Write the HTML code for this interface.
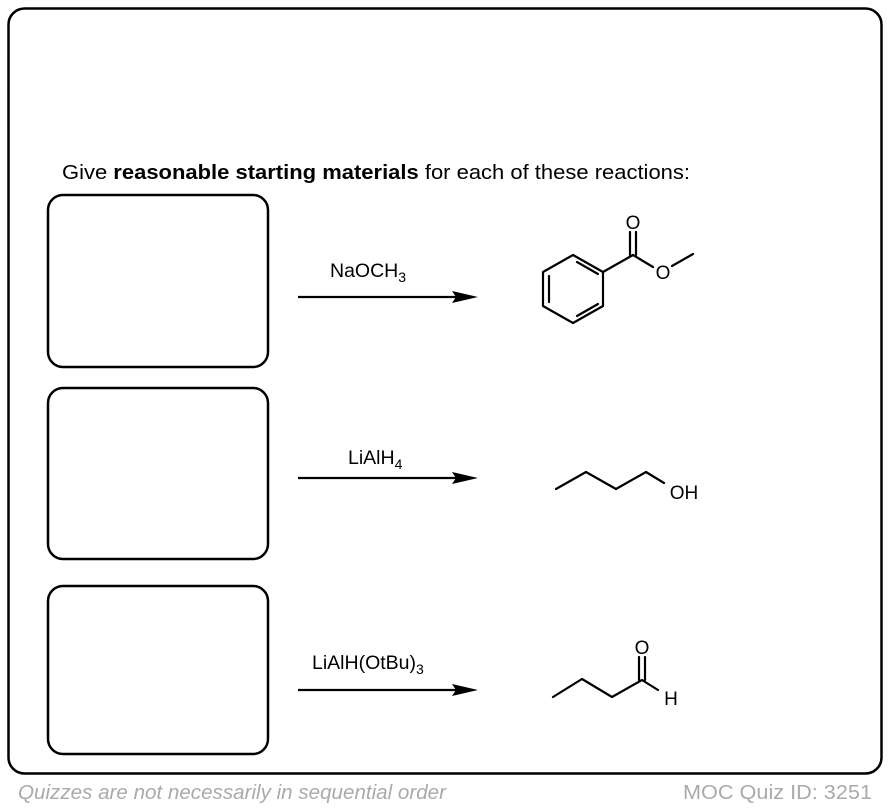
<!DOCTYPE html>
<html><head><meta charset="utf-8"><style>
html,body{margin:0;padding:0;background:#fff;}
svg{display:block;}
text{font-family:"Liberation Sans",Arial,sans-serif;}
</style></head><body>
<svg width="890" height="808" viewBox="0 0 890 808" xmlns="http://www.w3.org/2000/svg">
<rect x="8.5" y="8.5" width="873" height="765" rx="16" fill="#fff" stroke="#000" stroke-width="2.5"/>
<text x="62" y="179" font-size="20.5" fill="#000" textLength="628" lengthAdjust="spacingAndGlyphs">Give <tspan font-weight="bold">reasonable starting materials</tspan> for each of these reactions:</text>
<g fill="none" stroke="#000" stroke-width="2.5">
<rect x="48" y="195" width="220" height="172" rx="15"/>
<rect x="48" y="388" width="220" height="171" rx="15"/>
<rect x="48" y="586" width="220" height="168" rx="15"/>
</g>
<g stroke="#000" stroke-width="2.2">
<line x1="298" y1="297" x2="456" y2="297"/>
<line x1="298" y1="478" x2="456" y2="478"/>
<line x1="298" y1="690" x2="456" y2="690"/>
</g>
<g fill="#000">
<polygon points="452,291 478,297 452,303 456,297"/>
<polygon points="452,472 478,478 452,484 456,478"/>
<polygon points="452,684 478,690 452,696 456,690"/>
</g>
<text x="330" y="277" font-size="19.5">NaOCH<tspan font-size="14" dy="5">3</tspan></text>
<text x="348" y="464" font-size="19.5">LiAlH<tspan font-size="14" dy="5">4</tspan></text>
<text x="312" y="669" font-size="19.5">LiAlH(OtBu)<tspan font-size="14" dy="5">3</tspan></text>
<g fill="none" stroke="#000" stroke-width="2.2" stroke-linejoin="round" stroke-linecap="round">
<polygon points="573,255 603,272 603,306 573,323 543,306 543,272"/>
<line x1="549" y1="276" x2="549" y2="302"/>
<line x1="577" y1="316" x2="598" y2="304"/>
<line x1="577" y1="262" x2="598" y2="274"/>
<line x1="603" y1="272" x2="633" y2="255"/>
<line x1="633" y1="255" x2="653" y2="267"/>
<line x1="672" y1="266" x2="693" y2="254"/>
<line x1="630" y1="255" x2="630" y2="232"/>
<line x1="636" y1="255" x2="636" y2="232"/>
<polyline points="556,489 586,472 616,489 646,472 664,483"/>
<polyline points="553,697 582,679 612,697 642,680 658,690"/>
<line x1="639" y1="680" x2="639" y2="657"/>
<line x1="645" y1="680" x2="645" y2="657"/>
</g>
<g font-size="19" fill="#000" text-anchor="middle">
<text x="633" y="229">O</text>
<text x="663" y="279">O</text>
<text x="684" y="499">OH</text>
<text x="642" y="654">O</text>
<text x="671" y="705">H</text>
</g>
<text x="18" y="799" font-size="20" font-style="italic" fill="#aaa" textLength="428" lengthAdjust="spacingAndGlyphs">Quizzes are not necessarily in sequential order</text>
<text x="683" y="799" font-size="20" fill="#aaa" textLength="189" lengthAdjust="spacingAndGlyphs">MOC Quiz ID: 3251</text>
</svg>
</body></html>
